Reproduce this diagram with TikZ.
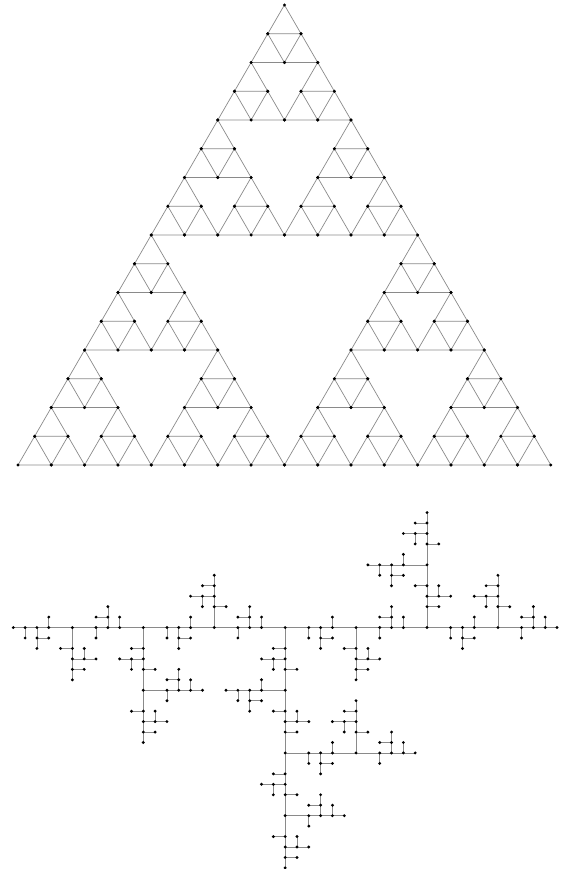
\documentclass[tikz,border=0pt]{standalone}
\usepackage{xcolor}
\definecolor{wire}{HTML}{8A8A8A}
\usepackage{tikz}
\tikzset{
  link/.style={draw=wire, line width=0.7pt},
  vertex/.style={fill=black},
}
% tree edges: t<column>-<row>, row 11 is the long horizontal
\newcommand{\treeedges}{t0-11/t46-11,
  t1-11/t1-12, t2-11/t2-13, t2-12/t3-12, t3-11/t3-10,
  t7-11/t7-12, t8-11/t8-9, t8-10/t7-10, t9-11/t9-10,
  t13-11/t13-12, t14-11/t14-13, t14-12/t15-12, t15-11/t15-10,
  t19-11/t19-12, t20-11/t20-9, t20-10/t19-10, t21-11/t21-10,
  t25-11/t25-12, t26-11/t26-13, t26-12/t27-12, t27-11/t27-10,
  t31-11/t31-12, t32-11/t32-9, t32-10/t31-10, t33-11/t33-10,
  t37-11/t37-12, t38-11/t38-13, t38-12/t39-12, t39-11/t39-10,
  t43-11/t43-12, t44-11/t44-9, t44-10/t43-10, t45-11/t45-10,
  t5-11/t5-16, t5-13/t4-13, t5-14/t7-14, t6-14/t6-13, t5-15/t6-15,
  t29-11/t29-16, t29-13/t28-13, t29-14/t31-14, t30-14/t30-13, t29-15/t30-15,
  t17-11/t17-6, t17-9/t18-9, t17-8/t15-8, t16-8/t16-9, t17-7/t16-7,
  t41-11/t41-6, t41-9/t42-9, t41-8/t39-8, t40-8/t40-9, t41-7/t40-7,
  t11-11/t11-22, t11-13/t10-13, t11-14/t9-14, t10-14/t10-15, t11-15/t12-15,
  t11-17/t16-17, t13-17/t13-18, t14-17/t14-15, t14-16/t13-16, t15-17/t15-16,
  t11-19/t10-19, t11-20/t13-20, t12-20/t12-19, t11-21/t12-21,
  t35-11/t35-0, t35-9/t36-9, t35-8/t37-8, t36-8/t36-7, t35-7/t34-7,
  t35-5/t30-5, t33-5/t33-4, t32-5/t32-7, t32-6/t33-6, t31-5/t31-6,
  t35-3/t36-3, t35-2/t33-2, t34-2/t34-3, t35-1/t34-1,
  t23-11/t23-34,
  t23-13/t22-13, t23-14/t21-14, t22-14/t22-15, t23-15/t24-15,
  t23-17/t18-17, t21-17/t21-16, t20-17/t20-19, t20-18/t21-18, t19-17/t19-18,
  t23-19/t22-19, t23-20/t25-20, t24-20/t24-19, t23-21/t24-21,
  t23-23/t34-23, t25-23/t25-24, t26-23/t26-25, t26-24/t27-24, t27-23/t27-22,
  t29-23/t29-18, t29-21/t30-21, t29-20/t27-20, t28-20/t28-21, t29-19/t28-19,
  t31-23/t31-24, t32-23/t32-21, t32-22/t31-22, t33-23/t33-22,
  t23-25/t22-25, t23-26/t21-26, t22-26/t22-27, t23-27/t24-27,
  t23-29/t28-29, t25-29/t25-30, t26-29/t26-27, t26-28/t25-28, t27-29/t27-28,
  t23-31/t22-31, t23-32/t25-32, t24-32/t24-31, t23-33/t24-33}

\begin{document}
\begin{tikzpicture}[x=1pt, y=-1pt]
  \useasboundingbox (0,0) rectangle (568,869);

  % gasket lattice
  \foreach \i in {0,...,16} {
    \pgfmathtruncatemacro\jmax{16-\i}
    \foreach \j in {0,...,\jmax}
      \coordinate (s\i-\j) at ({18+33.3*\i+16.65*\j}, {465-28.75*\j});
  }
  % small triangles kept where i and j share no bit
  \foreach \i in {0,...,15} {
    \pgfmathtruncatemacro\jmax{15-\i}
    \foreach \j in {0,...,\jmax} {
      \pgfmathtruncatemacro\hit{mod(\i,2)*mod(\j,2)+mod(floor(\i/2),2)*mod(floor(\j/2),2)+mod(floor(\i/4),2)*mod(floor(\j/4),2)+mod(floor(\i/8),2)*mod(floor(\j/8),2)}
      \pgfmathtruncatemacro\ip{\i+1}
      \pgfmathtruncatemacro\jp{\j+1}
      \ifnum\hit=0
        \draw[link] (s\i-\j) -- (s\ip-\j) -- (s\i-\jp) -- cycle;
      \fi
    }
  }
  \foreach \i in {0,...,15} {
    \pgfmathtruncatemacro\jmax{15-\i}
    \foreach \j in {0,...,\jmax} {
      \pgfmathtruncatemacro\hit{mod(\i,2)*mod(\j,2)+mod(floor(\i/2),2)*mod(floor(\j/2),2)+mod(floor(\i/4),2)*mod(floor(\j/4),2)+mod(floor(\i/8),2)*mod(floor(\j/8),2)}
      \pgfmathtruncatemacro\ip{\i+1}
      \pgfmathtruncatemacro\jp{\j+1}
      \ifnum\hit=0
        \fill[vertex] (s\i-\j) circle (1.6pt) (s\ip-\j) circle (1.6pt) (s\i-\jp) circle (1.6pt);
      \fi
    }
  }

  % tree grid
  \foreach \i in {0,...,46}
    \foreach \r in {0,...,34}
      \coordinate (t\i-\r) at ({13.3+11.82*\i}, {512.6+10.45*\r});
  \foreach \a/\b in \treeedges
    \draw[link] (\a) -- (\b);
  \foreach \a/\b in \treeedges
    \fill[vertex] (\a) circle (1.6pt) (\b) circle (1.6pt);
\end{tikzpicture}
\end{document}
